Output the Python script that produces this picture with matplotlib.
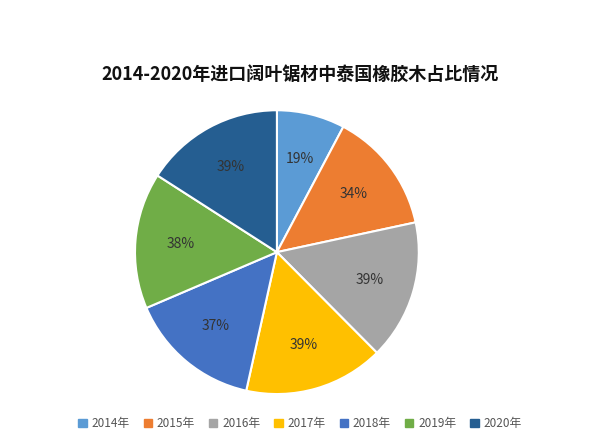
import matplotlib
matplotlib.use("Agg")
import matplotlib.pyplot as plt
from matplotlib.patches import Patch
from matplotlib import font_manager as fm
import numpy as np

cjk = [f for f in fm.findSystemFonts() if "CJK" in f or "Noto" in f]
for f in cjk:
    try:
        fm.fontManager.addfont(f)
    except Exception:
        pass
names = sorted({fm.FontProperties(fname=f).get_name() for f in cjk if "CJK" in f})
fam = [n for n in names if "SC" in n] + names + ["Noto Sans CJK SC", "DejaVu Sans"]
plt.rcParams['font.family'] = fam

years = ["2014年", "2015年", "2016年", "2017年", "2018年", "2019年", "2020年"]
values = [19, 34, 39, 39, 37, 38, 39]
colors = ["#5B9BD5", "#ED7D31", "#A5A5A5", "#FFC000", "#4472C4", "#70AD47", "#255E91"]

fig = plt.figure(figsize=(6, 4.37), dpi=100)
ax = fig.add_axes([0.225, 0.098, 0.473, 0.65])
ax.pie(values, colors=colors, startangle=90, counterclock=False,
       wedgeprops=dict(edgecolor="white", linewidth=1.5))
tot = sum(values)
ang = 90
for v in values:
    mid = np.deg2rad(ang - v / tot * 180)
    ax.text(0.68 * np.cos(mid), 0.68 * np.sin(mid), f"{v}%", ha="center", va="center",
            fontsize=10, color="#333333")
    ang -= v / tot * 360
ax.set_aspect("equal")
ax.set_xlim(-1, 1); ax.set_ylim(-1, 1)

fig.text(0.5, 0.83, "2014-2020年进口阔叶锯材中泰国橡胶木占比情况", ha="center", va="center",
         fontsize=13, fontweight="bold", color="#111111")
handles = [Patch(color=c, label=y) for c, y in zip(colors, years)]
fig.legend(handles=handles, loc="center", bbox_to_anchor=(0.5, 0.03), ncol=7, frameon=False,
           fontsize=8.5, handlelength=0.7, handleheight=0.7, columnspacing=1.2, handletextpad=0.4,
           labelcolor="#555555")
fig.savefig("out.png", dpi=100, facecolor="white")
